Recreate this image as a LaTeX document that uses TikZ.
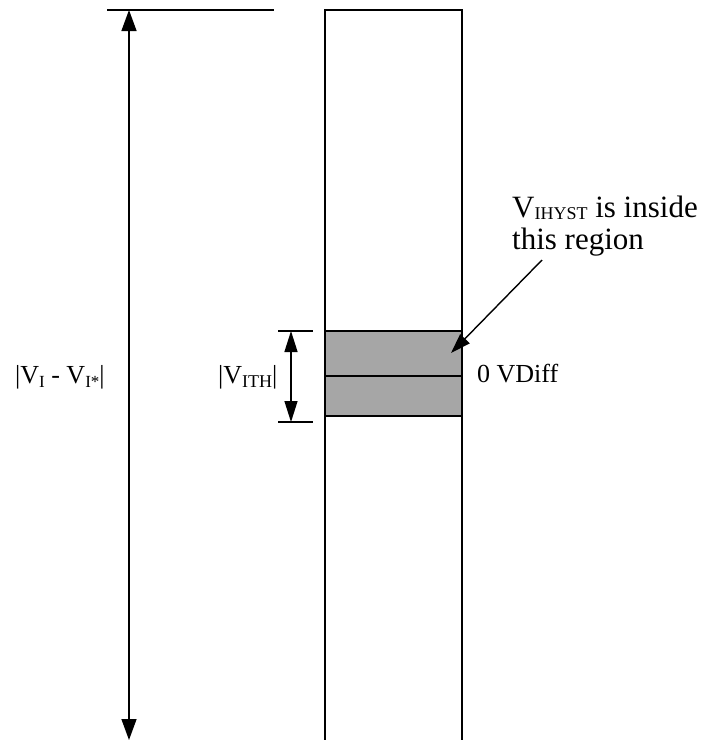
\documentclass[tikz,border=0pt]{standalone}
\usepackage{fontspec}
\setmainfont{Liberation Serif}
\usetikzlibrary{arrows.meta}
\definecolor{grayfill}{HTML}{A6A6A6}
\newcommand\sbs[3][4pt]{\raisebox{-#1}{\fontsize{#2}{#2}\selectfont #3}}
\tikzset{
  ln/.style={line width=1.4pt},
  bigarrow/.style={ln,{Triangle[length=21pt,width=15pt]}-{Triangle[length=21pt,width=15pt]}},
  smallarrow/.style={ln,{Triangle[length=21pt,width=13pt]}-{Triangle[length=21pt,width=13pt]}},
  leader/.style={ln,-{Triangle[length=20pt,width=13pt]}},
  lbl/.style={inner sep=0pt,anchor=base west,font=\fontsize{26}{30}\selectfont},
  biglbl/.style={inner sep=0pt,anchor=base west,font=\fontsize{31}{31}\selectfont},
}
\begin{document}
\begin{tikzpicture}[x=1pt,y=1pt]
\useasboundingbox (0,0) rectangle (703,-740);
% column
\fill[grayfill] (325,-331) rectangle (462,-416);
\draw[ln] (325,-740) -- (325,-10) -- (462,-10) -- (462,-740);
\draw[ln] (325,-331) -- (462,-331);
\draw[ln] (325,-376) -- (462,-376);
\draw[ln] (325,-416) -- (462,-416);
% top reference line
\coordinate (ttop) at (129,-10);
\coordinate (tbot) at (129,-740);
\draw[ln] (107,-10) -- (274,-10);
\draw[bigarrow] (ttop) -- (tbot);
% small dimension
\coordinate (stop) at (291,-331);
\coordinate (sbot) at (291,-422);
\draw[ln] (278,-331) -- (313,-331);
\draw[ln] (278,-422) -- (313,-422);
\draw[smallarrow] (stop) -- (sbot);
% labels
\node[lbl] (vi) at (15,-383) {|V\sbs{17}{I} - V\sbs{17}{I*}|};
\node[lbl] (vith) at (218,-383) {|V\sbs{18}{ITH}|};
\node[lbl] (zero) at (477,-382) {0 VDiff};
\node[biglbl] (hy1) at (512,-217) {V\sbs[2pt]{18}{IHYST} is inside};
\node[biglbl] (hy2) at (512,-249) {this region};
\coordinate (lstart) at (542,-260);
\coordinate (lend) at (451,-353);
\draw[leader] (lstart) -- (lend);
\end{tikzpicture}
\end{document}
